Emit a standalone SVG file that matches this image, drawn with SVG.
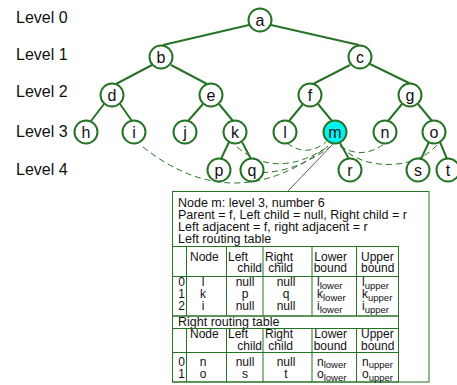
<svg xmlns="http://www.w3.org/2000/svg" width="457" height="385" viewBox="0 0 457 385">
  <style>
    .lvl { font-family: "Liberation Sans", Arial, sans-serif; font-size: 16px; fill: #111; }
    .node circle { fill: #fff; stroke: #267326; stroke-width: 2; }
    .node text { font-family: "Liberation Sans", Arial, sans-serif; font-size: 16px; fill: #111; text-anchor: middle; }
    .edge { stroke: #267326; stroke-width: 2; fill: none; }
    .route { stroke: #267326; stroke-width: 1; fill: none; stroke-dasharray: 6 4; }
    .pointer { stroke: #333; stroke-width: 0.8; fill: none; }
    .frame { stroke: #267326; stroke-width: 1; fill: none; }
    .info { font-family: "Liberation Sans", Arial, sans-serif; font-size: 12.5px; fill: #111; }
    .cell { font-family: "Liberation Sans", Arial, sans-serif; font-size: 12px; fill: #111; }
    .mid { text-anchor: middle; }
    .end { text-anchor: end; }
    .sub { font-size: 9.5px; }
  </style>

  <!-- level labels -->
  <g id="levels">
    <text class="lvl" x="16" y="23">Level 0</text>
    <text class="lvl" x="16" y="60">Level 1</text>
    <text class="lvl" x="16" y="97">Level 2</text>
    <text class="lvl" x="16" y="137">Level 3</text>
    <text class="lvl" x="16" y="175">Level 4</text>
  </g>

  <!-- connectors -->
  <g id="connectors">
    <!-- tree edges -->
    <path class="edge" d="M249,25 L163,45"/>
    <path class="edge" d="M271,25 L359,45"/>
    <path class="edge" d="M152,65 L116,84"/>
    <path class="edge" d="M171,65 L207,84"/>
    <path class="edge" d="M350,65 L313,84"/>
    <path class="edge" d="M370,64 L411,84"/>
    <path class="edge" d="M104,104 L91,121"/>
    <path class="edge" d="M120,104 L132,121"/>
    <path class="edge" d="M203,104 L188,121"/>
    <path class="edge" d="M219,104 L233,121"/>
    <path class="edge" d="M303,104 L289,121"/>
    <path class="edge" d="M318,104 L332,121"/>
    <path class="edge" d="M402,104 L388,121"/>
    <path class="edge" d="M418,104 L432,121"/>
    <path class="edge" d="M229,142 L221,159"/>
    <path class="edge" d="M242,142 L251,159"/>
    <path class="edge" d="M340,143 L349,159"/>
    <path class="edge" d="M429,142 L421,159"/>
    <path class="edge" d="M440,142 L447,159"/>
    <!-- routing links of node m -->
    <path class="route" d="M287,143 Q306,158 326,142"/>
    <path class="route" d="M237,147 Q277,181 329,146"/>
    <path class="route" d="M252,172 Q290,176 330,147"/>
    <path class="route" d="M143,147 Q234.5,219.5 328,146"/>
    <path class="route" d="M340,146 Q362,160 384,144"/>
    <path class="route" d="M341,146 C360,170 415,172 438,144"/>
    <!-- pointer to the info panel -->
    <path class="pointer" d="M333,144 L288,191"/>
  </g>

  <!-- tree nodes -->
  <g id="node-a" class="node"><circle cx="260" cy="20" r="11.5"/><text x="260" y="26">a</text></g>
  <g id="node-b" class="node"><circle cx="161" cy="57" r="11.5"/><text x="161" y="63">b</text></g>
  <g id="node-c" class="node"><circle cx="360" cy="57" r="11.5"/><text x="360" y="63">c</text></g>
  <g id="node-d" class="node"><circle cx="112" cy="95" r="11.5"/><text x="112" y="101">d</text></g>
  <g id="node-e" class="node"><circle cx="211" cy="95" r="11.5"/><text x="211" y="101">e</text></g>
  <g id="node-f" class="node"><circle cx="310" cy="95" r="11.5"/><text x="310" y="101">f</text></g>
  <g id="node-g" class="node"><circle cx="410" cy="95" r="11.5"/><text x="410" y="101">g</text></g>
  <g id="node-h" class="node"><circle cx="86" cy="132" r="11.5"/><text x="86" y="138">h</text></g>
  <g id="node-i" class="node"><circle cx="134" cy="132" r="11.5"/><text x="134" y="138">i</text></g>
  <g id="node-j" class="node"><circle cx="185" cy="132" r="11.5"/><text x="185" y="138">j</text></g>
  <g id="node-k" class="node"><circle cx="235" cy="132" r="11.5"/><text x="235" y="138">k</text></g>
  <g id="node-l" class="node"><circle cx="285" cy="132" r="11.5"/><text x="285" y="138">l</text></g>
  <g id="node-m" class="node"><circle cx="335" cy="132" r="11.5" style="fill:#00f2f2"/><text x="335" y="138">m</text></g>
  <g id="node-n" class="node"><circle cx="385" cy="132" r="11.5"/><text x="385" y="138">n</text></g>
  <g id="node-o" class="node"><circle cx="434" cy="132" r="11.5"/><text x="434" y="138">o</text></g>
  <g id="node-p" class="node"><circle cx="219" cy="170" r="11.5"/><text x="219" y="176">p</text></g>
  <g id="node-q" class="node"><circle cx="252" cy="170" r="11.5"/><text x="252" y="176">q</text></g>
  <g id="node-r" class="node"><circle cx="350" cy="170" r="11.5"/><text x="350" y="176">r</text></g>
  <g id="node-s" class="node"><circle cx="418" cy="170" r="11.5"/><text x="418" y="176">s</text></g>
  <g id="node-t" class="node"><circle cx="448" cy="170" r="11.5"/><text x="448" y="176">t</text></g>

  <!-- info panel for node m -->
  <g id="info-panel">
    <rect class="frame" x="172.5" y="191.5" width="256.5" height="190.5" style="fill:#fff"/>
    <text class="info" x="178" y="207">Node m: level 3, number 6</text>
    <text class="info" x="178" y="219">Parent = f, Left child = null, Right child = r</text>
    <text class="info" x="178" y="231">Left adjacent = f, right adjacent = r</text>
    <text class="info" x="178" y="243">Left routing table</text>

    <!-- left routing table grid -->
    <rect class="frame" x="172.5" y="246.5" width="226" height="69.5"/>
    <path class="frame" d="M172.5,276.5 H398.5 M186.5,246.5 V316 M226.5,246.5 V316 M263,246.5 V316 M312,246.5 V316 M356.5,246.5 V316"/>
    <text class="cell" x="190" y="261">Node</text>
    <text class="cell" x="228" y="261">Left</text>
    <text class="cell end" x="262" y="272">child</text>
    <text class="cell end" x="293" y="261">Right</text>
    <text class="cell end" x="293" y="272">child</text>
    <text class="cell end" x="347" y="261">Lower</text>
    <text class="cell end" x="347" y="272">bound</text>
    <text class="cell" x="361" y="261">Upper</text>
    <text class="cell" x="361" y="272">bound</text>

    <text class="cell end" x="185" y="286">0</text>
    <text class="cell mid" x="203" y="286">l</text>
    <text class="cell mid" x="245" y="286">null</text>
    <text class="cell mid" x="286" y="286">null</text>
    <text class="cell" x="317" y="286">l<tspan class="sub" dy="2.5">lower</tspan></text>
    <text class="cell" x="362" y="286">l<tspan class="sub" dy="2.5">upper</tspan></text>

    <text class="cell end" x="185" y="298">1</text>
    <text class="cell mid" x="203" y="298">k</text>
    <text class="cell mid" x="245" y="298">p</text>
    <text class="cell mid" x="286" y="298">q</text>
    <text class="cell" x="317" y="298">k<tspan class="sub" dy="2.5">lower</tspan></text>
    <text class="cell" x="362" y="298">k<tspan class="sub" dy="2.5">upper</tspan></text>

    <text class="cell end" x="185" y="310">2</text>
    <text class="cell mid" x="203" y="310">i</text>
    <text class="cell mid" x="245" y="310">null</text>
    <text class="cell mid" x="286" y="310">null</text>
    <text class="cell" x="317" y="310">i<tspan class="sub" dy="2.5">lower</tspan></text>
    <text class="cell" x="362" y="310">i<tspan class="sub" dy="2.5">upper</tspan></text>

    <!-- right routing table title row and grid -->
    <rect class="frame" x="172.5" y="316" width="226" height="12.5"/>
    <text class="info" x="178" y="326">Right routing table</text>
    <rect class="frame" x="172.5" y="328.5" width="226" height="53.5"/>
    <path class="frame" d="M172.5,352.5 H398.5 M186.5,328.5 V382 M226.5,328.5 V382 M263,328.5 V382 M312,328.5 V382 M356.5,328.5 V382"/>
    <text class="cell" x="190" y="338">Node</text>
    <text class="cell" x="228" y="338">Left</text>
    <text class="cell end" x="262" y="349.5">child</text>
    <text class="cell end" x="293" y="338">Right</text>
    <text class="cell end" x="293" y="349.5">child</text>
    <text class="cell end" x="347" y="338">Lower</text>
    <text class="cell end" x="347" y="349.5">bound</text>
    <text class="cell" x="361" y="338">Upper</text>
    <text class="cell" x="361" y="349.5">bound</text>

    <text class="cell end" x="185" y="365.5">0</text>
    <text class="cell mid" x="203" y="365.5">n</text>
    <text class="cell mid" x="245" y="365.5">null</text>
    <text class="cell mid" x="286" y="365.5">null</text>
    <text class="cell" x="317" y="365.5">n<tspan class="sub" dy="2.5">lower</tspan></text>
    <text class="cell" x="362" y="365.5">n<tspan class="sub" dy="2.5">upper</tspan></text>

    <text class="cell end" x="185" y="378">1</text>
    <text class="cell mid" x="203" y="378">o</text>
    <text class="cell mid" x="245" y="378">s</text>
    <text class="cell mid" x="286" y="378">t</text>
    <text class="cell" x="317" y="378">o<tspan class="sub" dy="2.5">lower</tspan></text>
    <text class="cell" x="362" y="378">o<tspan class="sub" dy="2.5">upper</tspan></text>
  </g>
</svg>
